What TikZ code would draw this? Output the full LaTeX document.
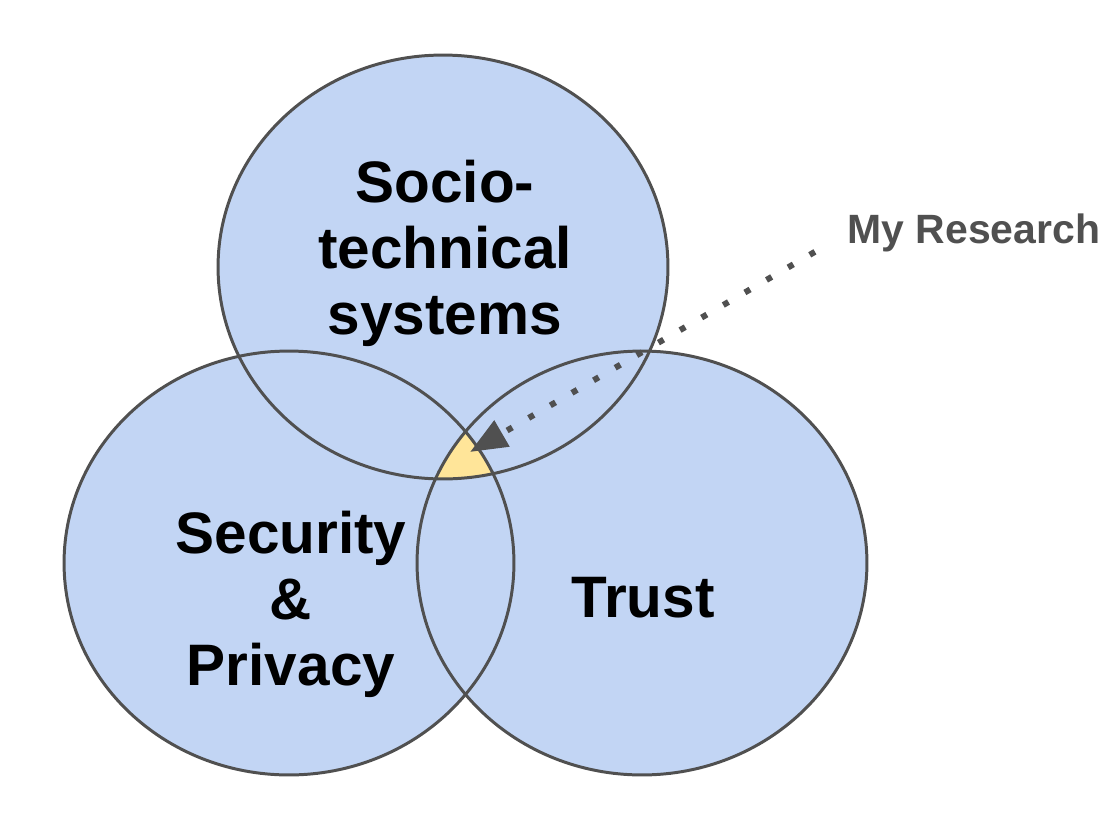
\documentclass[tikz,border=0pt]{standalone}
\usepackage{fontspec}
\setmainfont{Liberation Sans}
\usetikzlibrary{arrows.meta}
\definecolor{setblue}{HTML}{C2D5F4}
\definecolor{rimgray}{HTML}{505050}
\definecolor{coreyellow}{HTML}{FFE599}

\begin{document}
\begin{tikzpicture}[x=0.02cm, y=-0.02cm,
    setfill/.style={fill=setblue},
    setrim/.style={draw=rimgray, line width=1.7pt},
    biglabel/.style={font=\bfseries\fontsize{33.3}{37.5}\selectfont, align=center, inner sep=0pt},
    notelabel/.style={font=\bfseries\fontsize{23.3}{27}\selectfont, text=rimgray, inner sep=0pt},
    pointer/.style={draw=rimgray, line width=0.12cm, dash pattern=on 0.12cm off 0.38cm,
        -{Triangle[length=0.74cm, width=0.58cm]}}]
    \useasboundingbox (0,0) rectangle (1113,812);
    \coordinate (socio) at (443,267);
    \coordinate (secpriv) at (289,563);
    \coordinate (trust) at (642,563);
    \coordinate (core) at (470,452);

    \foreach \c in {socio,secpriv,trust}
        \fill[setfill] (\c) ellipse [x radius=4.5cm, y radius=4.24cm];
    \begin{scope}
        \clip (socio) ellipse [x radius=4.5cm, y radius=4.24cm];
        \clip (secpriv) ellipse [x radius=4.5cm, y radius=4.24cm];
        \fill[coreyellow] (trust) ellipse [x radius=4.5cm, y radius=4.24cm];
    \end{scope}
    \foreach \c in {socio,secpriv,trust}
        \draw[setrim] (\c) ellipse [x radius=4.5cm, y radius=4.24cm];

    \node[biglabel] (sociolabel) at (445,253) {Socio-\\technical\\systems};
    \node[biglabel] (secprivlabel) at (291,604) {Security\\\&\\Privacy};
    \node[biglabel] (trustlabel) at (643,598) {Trust};
    \node[notelabel] (research) at (974,233) {My Research};

    \draw[pointer, shorten <=0.75cm] (research.west) -- (core);
\end{tikzpicture}
\end{document}
